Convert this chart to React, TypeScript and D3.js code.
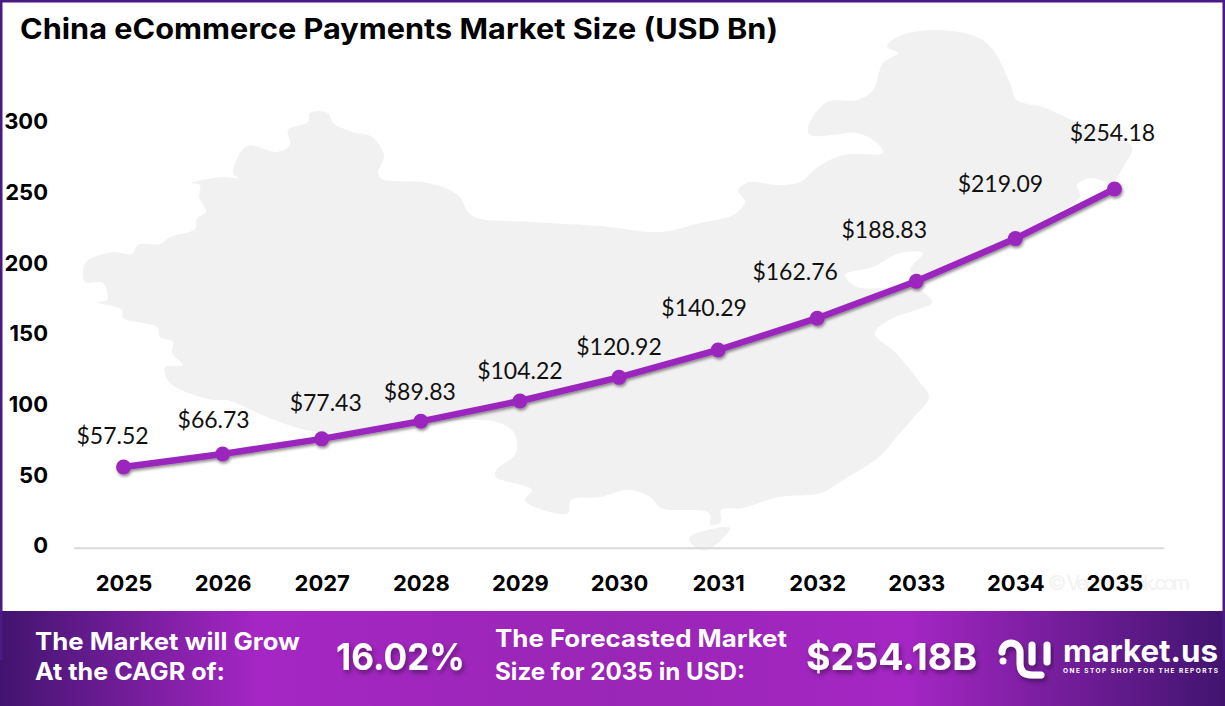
import React, { useEffect, useRef } from 'react';
import * as d3 from 'd3';

const years = ['2025', '2026', '2027', '2028', '2029', '2030', '2031', '2032', '2033', '2034', '2035'];
const marketSize = [57.52, 66.73, 77.43, 89.83, 104.22, 120.92, 140.29, 162.76, 188.83, 219.09, 254.18];
const yTicks = [0, 50, 100, 150, 200, 250, 300];

// label nudges relative to each point, the labels were hand placed in the original
const labelDx = [-11, -9, 4, -1, 0, 0, -14, -22, -32, -15, -2];
const labelDy = [-31, -34, -36, -30, -30, -31, -42, -46, -52, -55, -56];

// background map of China (decoration only, not data)
const mapMain: [number, number][] = [
	[83, 270], [87, 261], [113, 252], [132, 254], [138, 245], [160, 244], [170, 237], [195, 229], [197, 218], [206, 212],
	[199, 197], [200, 185], [191, 183], [223, 177], [238, 178], [233, 173], [247, 146], [277, 152], [290, 145], [288, 130],
	[308, 122], [310, 113], [328, 113], [333, 123], [353, 132], [372, 137], [384, 155], [378, 173], [382, 179], [428, 183],
	[458, 195], [468, 212], [477, 218], [530, 222], [600, 226], [660, 232], [700, 223], [733, 215], [745, 202], [738, 190],
	[750, 182], [777, 185], [800, 182], [818, 167], [843, 155], [883, 153], [877, 143], [857, 133], [833, 135], [810, 135],
	[808, 127], [827, 102], [857, 100], [873, 90], [883, 63], [898, 53], [887, 47], [897, 37], [933, 30], [977, 37],
	[993, 50], [1010, 83], [1017, 100], [1043, 107], [1072, 120], [1100, 130], [1132, 147], [1123, 167], [1113, 182], [1090, 178],
	[1077, 185], [1080, 197], [1040, 222], [1013, 240], [960, 262], [930, 278], [910, 270], [923, 253], [900, 253], [873, 267],
	[845, 275], [857, 287], [885, 288], [913, 287], [930, 298], [932, 303], [913, 311], [893, 318], [875, 333], [896, 353],
	[918, 380], [929, 397], [914, 417], [900, 433], [879, 457], [843, 480], [821, 493], [779, 497], [743, 508], [721, 510],
	[721, 522], [711, 525], [709, 513], [661, 508], [650, 497], [629, 490], [600, 497], [571, 500], [568, 513], [543, 510],
	[525, 500], [532, 490], [496, 477], [496, 470], [516, 453], [514, 433], [500, 423], [482, 420], [400, 425], [317, 432],
	[267, 417], [227, 400], [213, 400], [170, 383], [165, 367], [183, 365], [172, 353], [173, 342], [160, 337], [157, 327],
	[123, 318], [122, 310], [97, 302], [107, 300], [103, 283], [85, 282],
];
const mapHainan: [number, number][] = [[689, 538], [707, 530], [730, 528], [721, 540], [707, 550], [696, 548]];

const WIDTH = 1225;
const HEIGHT = 706;
const PURPLE = '#9b27bd';
const HEAD_FONT = 'Inter, Roboto, sans-serif';
const LABEL_FONT = 'Lato, "Open Sans", sans-serif';

const App = () => {
	const ref = useRef<SVGSVGElement>(null);

	useEffect(() => {
		document.body.style.margin = '0';
		const svg = d3.select(ref.current);
		svg.selectAll('*').remove();

		const defs = svg.append('defs');
		const grad = defs.append('linearGradient').attr('id', 'band');
		[[0, '#41146f'], [0.21, '#a526c4'], [0.5, '#9a26b6'], [0.74, '#a526c4'], [1, '#41146f']].forEach((s) => {
			grad.append('stop').attr('offset', s[0]).attr('stop-color', s[1]);
		});
		const shadow = (id: string, dx: number, dy: number, blur: number, op: number) =>
			defs.append('filter').attr('id', id).attr('x', '-10%').attr('y', '-30%').attr('width', '125%').attr('height', '170%')
				.append('feDropShadow').attr('dx', dx).attr('dy', dy).attr('stdDeviation', blur)
				.attr('flood-color', '#000').attr('flood-opacity', op);
		shadow('lineShadow', 1, 2, 1.5, 0.45);
		shadow('bigShadow', 2, 3, 2.5, 0.4);

		svg.append('rect').attr('width', WIDTH).attr('height', HEIGHT).attr('fill', '#fff');

		// map behind everything
		const mapLine = d3.line().curve(d3.curveCatmullRomClosed.alpha(0.5));
		[mapMain, mapHainan].forEach((pts) => {
			svg.append('path').attr('d', mapLine(pts)).attr('fill', '#f1f1f1');
		});

		svg.append('text').attr('x', 1048).attr('y', 590).text('© VectorStock.com')
			.attr('font-family', HEAD_FONT).attr('font-size', 20).attr('fill', '#f2f2f2')
			.attr('textLength', 142);

		const x = d3.scalePoint().domain(years).range([74, 1164]).padding(0.5);
		const y = d3.scaleLinear().domain([0, 300]).range([548.3, 124.2]);

		/* Axes */
		const yAxis = d3.axisLeft(y).tickValues(yTicks).tickSize(0).tickPadding(0);
		const yG = svg.append('g').attr('transform', 'translate(48,-2.5)').call(yAxis as any);
		yG.select('.domain').remove();
		yG.selectAll('text').attr('font-family', HEAD_FONT).attr('font-weight', 700).attr('font-size', 22).attr('fill', '#000');

		const xAxis = d3.axisBottom(x).tickSize(0).tickPadding(0);
		const xG = svg.append('g').attr('transform', 'translate(0,575.5)').call(xAxis as any);
		xG.select('.domain').remove();
		xG.selectAll('text').attr('font-family', HEAD_FONT).attr('font-weight', 700).attr('font-size', 22).attr('fill', '#000');

		svg.append('line').attr('x1', 74).attr('x2', 1164).attr('y1', y(0)).attr('y2', y(0))
			.attr('stroke', '#d9d9d9').attr('stroke-width', 2);

		/* Line and points */
		const line = d3.line<number>().x((d, i) => x(years[i]) as number).y((d) => y(d));
		const series = svg.append('g').attr('filter', 'url(#lineShadow)');
		series.append('path').attr('d', line(marketSize)).attr('fill', 'none')
			.attr('stroke', PURPLE).attr('stroke-width', 6.5);
		series.selectAll('circle').data(marketSize).enter().append('circle')
			.attr('cx', (d, i) => x(years[i]) as number).attr('cy', (d) => y(d)).attr('r', 7.5).attr('fill', PURPLE);

		svg.append('g').selectAll('text').data(marketSize).enter().append('text')
			.attr('x', (d, i) => (x(years[i]) as number) + labelDx[i])
			.attr('y', (d, i) => y(d) + labelDy[i])
			.attr('dy', '0.36em').attr('text-anchor', 'middle')
			.attr('font-family', LABEL_FONT).attr('font-size', 23).attr('fill', '#111')
			.text((d) => '$' + d.toFixed(2));

		/* Title */
		svg.append('text').attr('x', 20).attr('y', 39).text('China eCommerce Payments Market Size (USD Bn)')
			.attr('font-family', HEAD_FONT).attr('font-weight', 700).attr('font-size', 28).attr('fill', '#000')
			.attr('textLength', 758).attr('lengthAdjust', 'spacingAndGlyphs');

		/* Footer band */
		svg.append('rect').attr('y', 611).attr('width', WIDTH).attr('height', HEIGHT - 611).attr('fill', 'url(#band)');
		const foot = (t: string, tx: number, ty: number, size: number, len: number, filter?: string, adjust = 'spacingAndGlyphs') => {
			svg.append('text').attr('x', tx).attr('y', ty).text(t)
				.attr('font-family', HEAD_FONT).attr('font-weight', 700).attr('font-size', size).attr('fill', '#fff')
				.attr('textLength', len).attr('lengthAdjust', adjust)
				.attr('filter', filter ? 'url(#' + filter + ')' : null);
		};
		foot('The Market will Grow', 35, 650, 24, 265);
		foot('At the CAGR of:', 35, 680, 24, 190);
		foot('16.02%', 336, 670, 37, 129, 'bigShadow');
		foot('The Forecasted Market', 495, 647, 24, 292);
		foot('Size for 2035 in USD:', 495, 680, 24, 250);
		foot('$254.18B', 806, 670, 37, 171, 'bigShadow');

		/* Logo */
		const logo = svg.append('g').attr('filter', 'url(#bigShadow)').attr('fill', 'none')
			.attr('stroke', '#fff').attr('stroke-width', 7).attr('stroke-linecap', 'round');
		logo.append('path').attr('d', 'M1002,652 A9,9 0 0 1 1020,652 L1020,664 Q1020,675 1032,675 L1041,675');
		logo.append('path').attr('d', 'M1032,645 L1032,662');
		logo.append('path').attr('d', 'M1047,645 L1047,662');
		svg.append('circle').attr('cx', 1003).attr('cy', 661).attr('r', 3.5).attr('fill', '#fff');
		foot('market.us', 1063, 662, 31, 155);
		foot('ONE STOP SHOP FOR THE REPORTS', 1063, 672.5, 6.5, 155, undefined, 'spacing');

		/* Border */
		const border = 'M1.25,660 L1.25,1.25 L1223.75,1.25 L1223.75,660';
		svg.append('path').attr('d', border).attr('fill', 'none').attr('stroke', '#4a1a85').attr('stroke-width', 2.5);
	}, []);

	return <svg ref={ref} width={WIDTH} height={HEIGHT} style={{ position: 'absolute', left: 0, top: 0, display: 'block' }}></svg>;
};

export default App;
